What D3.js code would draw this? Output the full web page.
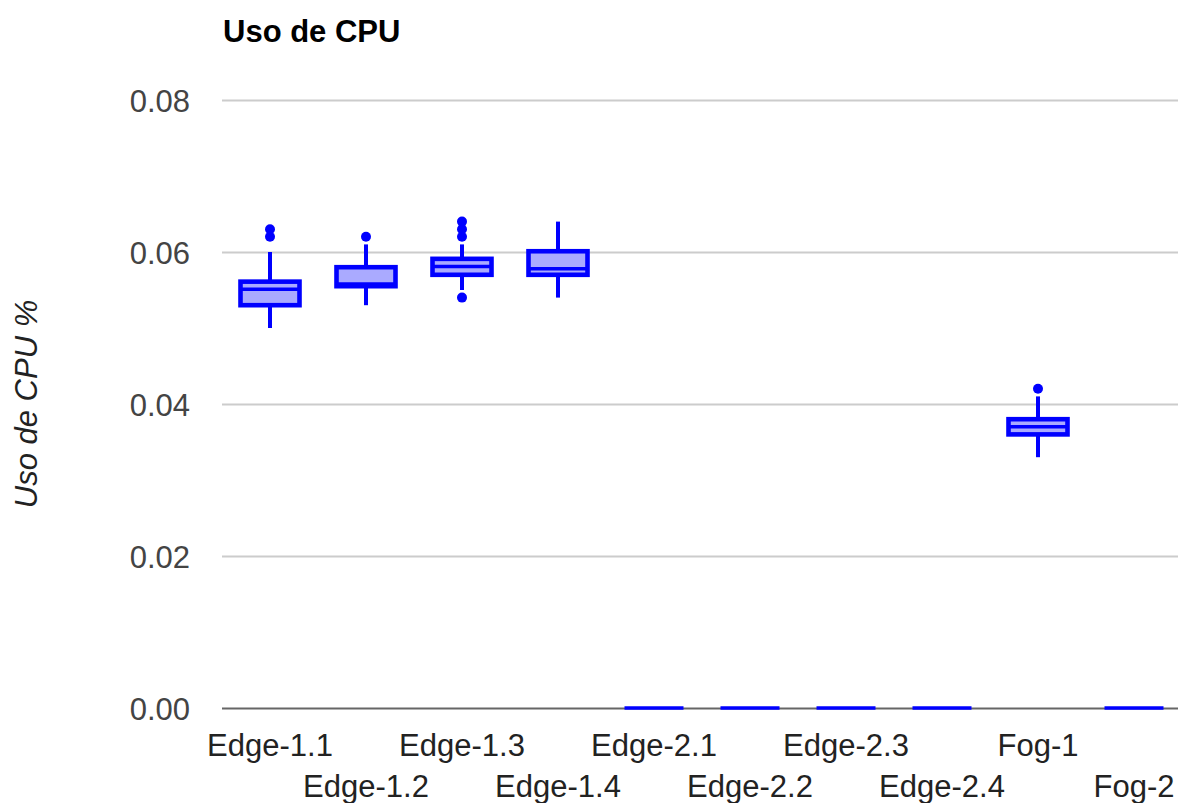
<!DOCTYPE html>
<html>
<head>
<meta charset="utf-8">
<script src="https://cdn.jsdelivr.net/npm/d3@7"></script>
<style>
  html, body { margin: 0; padding: 0; background: #fff; }
  svg { display: block; font-family: "Liberation Sans", Arial, sans-serif; }
</style>
</head>
<body>
<svg id="chart" width="1178" height="803"></svg>
<script>
// Box-plot statistics per node (CPU usage fraction)
const categories = ["Edge-1.1", "Edge-1.2", "Edge-1.3", "Edge-1.4", "Edge-2.1",
                    "Edge-2.2", "Edge-2.3", "Edge-2.4", "Fog-1", "Fog-2"];
const whiskerLow  = [0.050, 0.053, 0.055, 0.054, 0, 0, 0, 0, 0.033, 0];
const q1          = [0.053, 0.0555, 0.057, 0.057, 0, 0, 0, 0, 0.036, 0];
const median      = [0.0551, 0.0558, 0.0581, 0.0578, 0, 0, 0, 0, 0.037, 0];
const q3          = [0.0561, 0.058, 0.0591, 0.0601, 0, 0, 0, 0, 0.038, 0];
const whiskerHigh = [0.060, 0.061, 0.061, 0.064, 0, 0, 0, 0, 0.041, 0];
const outliers    = [[0.062, 0.063], [0.062], [0.054, 0.062, 0.063, 0.064], [], [], [], [], [], [0.042], []];
const yTicks = [0, 0.02, 0.04, 0.06, 0.08];

(function drawChart() {
  const svg = d3.select("#chart");
  const plotLeft = 222, plotRight = 1182, plotTop = 100, plotBottom = 708;

  const x = d3.scaleBand().domain(categories).range([plotLeft, plotRight]).paddingInner(0).paddingOuter(0);
  const y = d3.scaleLinear().domain([0, 0.08]).range([plotBottom, plotTop]);

  const stroke = "#0000ff";
  const fill = "#aaaaff";
  const boxW = 59;

  // Title
  svg.append("text").attr("x", 223).attr("y", 42)
    .attr("font-size", 31).attr("font-weight", "bold").attr("fill", "#000")
    .text("Uso de CPU");

  // Y axis title
  svg.append("text")
    .attr("transform", "translate(37,404) rotate(-90)")
    .attr("text-anchor", "middle").attr("font-size", 31).attr("font-style", "italic")
    .attr("fill", "#222").text("Uso de CPU %");

  // Gridlines and tick labels
  const yAxis = d3.axisLeft(y).tickValues(yTicks).tickFormat(d3.format(".2f"))
    .tickSize(-(1178 - plotLeft)).tickPadding(32);
  const gy = svg.append("g").attr("transform", `translate(${plotLeft},0)`).call(yAxis);
  gy.select(".domain").remove();
  gy.selectAll(".tick line").attr("stroke", d => d === 0 ? "#666" : "#cccccc").attr("stroke-width", 2);
  gy.selectAll(".tick text").attr("font-size", 31).attr("fill", "#444")
    .attr("font-family", "Liberation Sans, Arial, sans-serif").attr("dy", "0.36em");

  // Category labels on two alternating rows
  const xAxis = d3.axisBottom(x).tickSize(0).tickPadding(0);
  const gx = svg.append("g").attr("transform", `translate(0,${plotBottom})`).call(xAxis);
  gx.select(".domain").remove();
  gx.selectAll(".tick text")
    .attr("font-size", 31).attr("fill", "#222")
    .attr("font-family", "Liberation Sans, Arial, sans-serif")
    .attr("dy", null)
    .attr("y", (d, i) => i % 2 === 0 ? 48 : 89);

  // Boxes
  const boxes = svg.append("g").selectAll("g").data(categories).join("g")
    .attr("transform", d => `translate(${x(d) + x.bandwidth() / 2},0)`);

  boxes.append("line")
    .attr("y1", (d, i) => y(whiskerLow[i])).attr("y2", (d, i) => y(q1[i]))
    .attr("stroke", stroke).attr("stroke-width", 4);
  boxes.append("line")
    .attr("y1", (d, i) => y(q3[i])).attr("y2", (d, i) => y(whiskerHigh[i]))
    .attr("stroke", stroke).attr("stroke-width", 4);

  boxes.append("rect")
    .attr("x", -boxW / 2).attr("width", boxW)
    .attr("y", (d, i) => y(q3[i]))
    .attr("height", (d, i) => y(q1[i]) - y(q3[i]))
    .attr("fill", fill).attr("stroke", stroke).attr("stroke-width", 4.6);

  boxes.append("line")
    .attr("x1", -boxW / 2).attr("x2", boxW / 2)
    .attr("y1", (d, i) => y(median[i])).attr("y2", (d, i) => y(median[i]))
    .attr("stroke", stroke).attr("stroke-width", 3.4);

  boxes.each(function(d, i) {
    d3.select(this).selectAll("circle").data(outliers[i]).join("circle")
      .attr("cx", 0).attr("cy", v => y(v)).attr("r", 5).attr("fill", stroke);
  });
})();
</script>
</body>
</html>
